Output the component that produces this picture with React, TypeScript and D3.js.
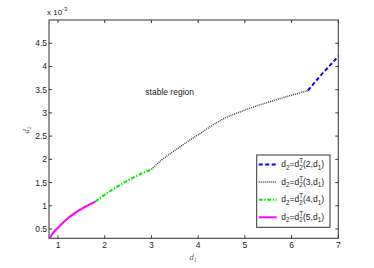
import React, { useRef, useEffect } from "react";
import * as d3 from "d3";

// d2 values are in units of 1e-3
const xTicks = [1, 2, 3, 4, 5, 6, 7];
const yTicks = [0.5, 1, 1.5, 2, 2.5, 3, 3.5, 4, 4.5];

const curve5: [number, number][] = [
  [0.82, 0.3], [0.9, 0.42], [1.0, 0.53], [1.1, 0.63], [1.2, 0.72], [1.3, 0.8],
  [1.4, 0.87], [1.5, 0.93], [1.6, 0.99], [1.7, 1.04], [1.8, 1.09],
];
const curve4: [number, number][] = [
  [1.8, 1.09], [2.0, 1.24], [2.2, 1.37], [2.4, 1.49], [2.6, 1.6], [2.8, 1.7], [3.0, 1.78],
];
const curve3: [number, number][] = [
  [3.0, 1.78], [3.2, 1.97], [3.4, 2.12], [3.6, 2.26], [3.8, 2.4], [4.0, 2.53],
  [4.5, 2.85], [5.0, 3.06], [5.5, 3.23], [6.0, 3.38], [6.35, 3.48],
];
const curve2: [number, number][] = [
  [6.35, 3.48], [6.6, 3.78], [6.8, 4.0], [7.0, 4.22],
];

const legendKeys = ["2", "3", "4", "5"];

const Chart = () => {
  const ref = useRef<HTMLDivElement>(null);

  useEffect(() => {
    const width = 374;
    const height = 268;
    const left = 49, right = 338.3, top = 20, bottom = 238.3;

    d3.select(ref.current).selectAll("*").remove();

    const svg = d3
      .select(ref.current)
      .append("svg")
      .attr("width", width)
      .attr("height", height)
      .style("position", "absolute")
      .style("left", "0px")
      .style("top", "0px")
      .style("background", "white")
      .style("font-family", "'Liberation Sans', Arial, sans-serif");

    const x = d3.scaleLinear().domain([0.807, 7]).range([left, right]);
    const y = d3.scaleLinear().domain([0.3, 5.0]).range([bottom, top]);

    const axisColor = "#333";
    const tick = 3;

    // frame
    svg
      .append("rect")
      .attr("x", left)
      .attr("y", top)
      .attr("width", right - left)
      .attr("height", bottom - top)
      .attr("fill", "none")
      .attr("stroke", axisColor)
      .attr("stroke-width", 1);

    // x ticks (bottom and top, inward)
    xTicks.forEach((t) => {
      const px = x(t);
      svg.append("line").attr("x1", px).attr("x2", px).attr("y1", bottom).attr("y2", bottom - tick).attr("stroke", axisColor);
      svg.append("line").attr("x1", px).attr("x2", px).attr("y1", top).attr("y2", top + tick).attr("stroke", axisColor);
      svg
        .append("text")
        .attr("x", px)
        .attr("y", 248.3)
        .attr("text-anchor", "middle")
        .attr("font-size", 8.5)
        .attr("fill", "#222")
        .text(t);
    });

    // y ticks (left and right, inward)
    yTicks.forEach((t) => {
      const py = y(t);
      svg.append("line").attr("x1", left).attr("x2", left + tick).attr("y1", py).attr("y2", py).attr("stroke", axisColor);
      svg.append("line").attr("x1", right).attr("x2", right - tick).attr("y1", py).attr("y2", py).attr("stroke", axisColor);
      svg
        .append("text")
        .attr("x", left - 2)
        .attr("y", py + 3)
        .attr("text-anchor", "end")
        .attr("font-size", 8.5)
        .attr("fill", "#222")
        .text(t);
    });

    // exponent label
    const expo = svg.append("text").attr("x", left - 2).attr("y", 15).attr("font-size", 8).attr("fill", "#222");
    expo.append("tspan").text("x 10");
    expo.append("tspan").attr("dy", -4).attr("font-size", 6).text("-3");

    // axis labels
    const xl = svg
      .append("text")
      .attr("x", 189.5)
      .attr("y", 259.5)
      .attr("font-family", "'Liberation Serif', 'Times New Roman', serif")
      .attr("font-style", "italic")
      .attr("font-size", 8.5)
      .attr("fill", "#555");
    xl.append("tspan").text("d");
    xl.append("tspan").attr("dy", 2).attr("font-size", 5.5).text("1");

    const yl = svg
      .append("text")
      .attr("transform", `translate(28.5, 133.5) rotate(-90)`)
      .attr("font-family", "'Liberation Serif', 'Times New Roman', serif")
      .attr("font-style", "italic")
      .attr("font-size", 8.5)
      .attr("fill", "#555");
    yl.append("tspan").text("d");
    yl.append("tspan").attr("dy", 2).attr("font-size", 5.5).text("2");

    svg
      .append("text")
      .attr("x", x(3.39))
      .attr("y", y(3.39))
      .attr("text-anchor", "middle")
      .attr("font-size", 8.5)
      .attr("fill", "#222")
      .text("stable region");

    const line = d3
      .line<[number, number]>()
      .x((d) => x(d[0]))
      .y((d) => y(d[1]))
      .curve(d3.curveMonotoneX);

    const styles: Record<string, { color: string; width: number; dash: string | null }> = {
      "2": { color: "#0000ff", width: 2, dash: "4,2.5" },
      "3": { color: "#444", width: 1.5, dash: "1,1" },
      "4": { color: "#00ee00", width: 2, dash: "4,1.5,1.5,1.5" },
      "5": { color: "#ff00ff", width: 2, dash: null },
    };
    const curves: Record<string, [number, number][]> = { "2": curve2, "3": curve3, "4": curve4, "5": curve5 };

    ["5", "4", "3", "2"].forEach((k) => {
      const s = styles[k];
      const p = svg
        .append("path")
        .attr("d", line(curves[k]))
        .attr("fill", "none")
        .attr("stroke", s.color)
        .attr("stroke-width", s.width);
      if (s.dash) p.attr("stroke-dasharray", s.dash);
    });

    // legend
    const lx = 256.7, ly = 155, lw = 73.3, lh = 72.3;
    svg
      .append("rect")
      .attr("x", lx)
      .attr("y", ly)
      .attr("width", lw)
      .attr("height", lh)
      .attr("fill", "white")
      .attr("stroke", axisColor)
      .attr("stroke-width", 1);

    legendKeys.forEach((k, i) => {
      const s = styles[k];
      const cy = ly + 9.5 + i * 17.6;
      const l = svg
        .append("line")
        .attr("x1", lx + 2)
        .attr("x2", lx + 20)
        .attr("y1", cy)
        .attr("y2", cy)
        .attr("stroke", s.color)
        .attr("stroke-width", s.width);
      if (s.dash) l.attr("stroke-dasharray", s.dash);

      const t = svg
        .append("text")
        .attr("x", lx + 24.5)
        .attr("y", cy + 2.5)
        .attr("font-size", 8.5)
        .attr("fill", "#222");
      t.append("tspan").text("d");
      t.append("tspan").attr("dy", 2.5).attr("font-size", 6.3).text("2");
      t.append("tspan").attr("dy", -2.5).text("=d");
      t.append("tspan").attr("dy", 2.5).attr("font-size", 6.3).text("2");
      t.append("tspan").attr("dx", -3.5).attr("dy", -6.5).attr("font-size", 6.3).text("T");
      t.append("tspan").attr("dy", 4).text(`(${k},d`);
      t.append("tspan").attr("dy", 2.5).attr("font-size", 6.3).text("1");
      t.append("tspan").attr("dy", -2.5).text(")");
    });
  }, []);

  return <div ref={ref}></div>;
};

export default function App() {
  return <Chart />;
}
